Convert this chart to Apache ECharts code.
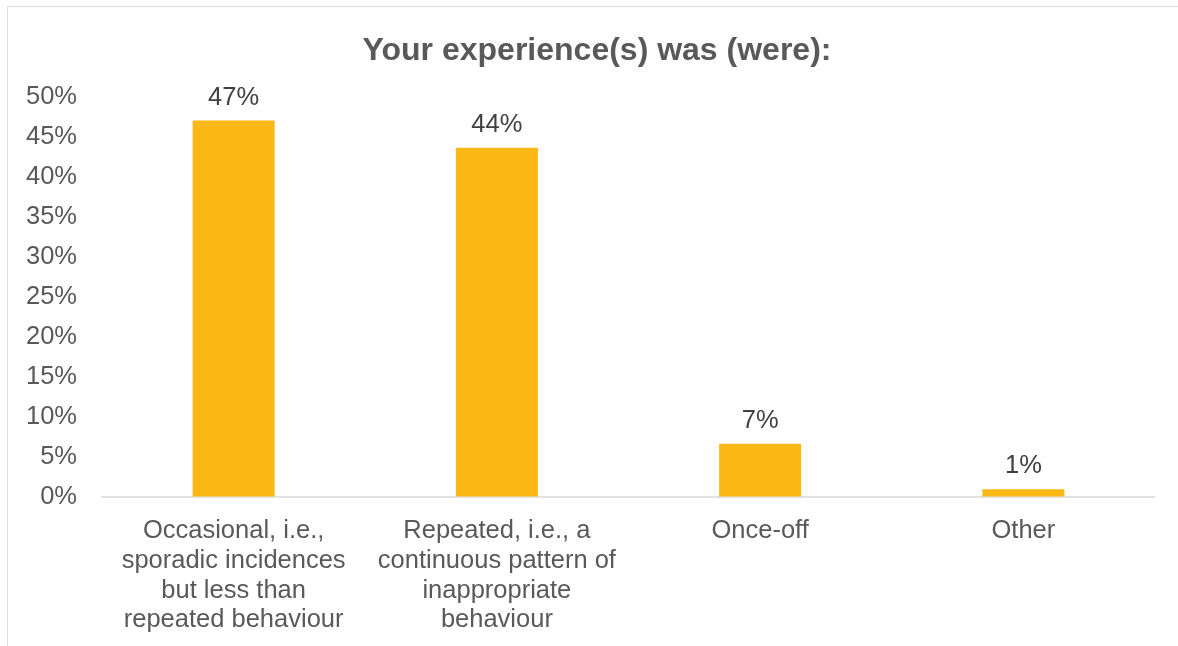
<!DOCTYPE html>
<html>
<head>
<meta charset="utf-8">
<title>Your experience(s) was (were):</title>
<script src="https://cdn.jsdelivr.net/npm/echarts@6/dist/echarts.min.js"></script>
<style>
  html, body { margin: 0; padding: 0; background: #ffffff; }
  #chart { width: 1178px; height: 646px; }
</style>
</head>
<body>
<div id="chart"></div>
<script>
// Survey responses: share of respondents per type of experience
const categories = [
  'Occasional, i.e.,\nsporadic incidences\nbut less than\nrepeated behaviour',
  'Repeated, i.e., a\ncontinuous pattern of\ninappropriate\nbehaviour',
  'Once-off',
  'Other'
];
const shares = [47, 43.6, 6.6, 0.9];   // percent
const yTicks = { min: 0, max: 50, interval: 5 };

const FONT = '"Liberation Sans", Arial, sans-serif';
const GREY = '#595959';

const chart = echarts.init(document.getElementById('chart'), null, { renderer: 'canvas' });

chart.setOption({
  animation: false,
  backgroundColor: '#ffffff',
  title: {
    text: 'Your experience(s) was (were):',
    left: 597,
    textAlign: 'center',
    top: 35,
    padding: 0,
    textStyle: { fontFamily: FONT, fontSize: 32, fontWeight: 'bold', color: GREY }
  },
  // chart frame
  graphic: [{
    type: 'rect',
    shape: { x: 7.5, y: 6.5, width: 1300, height: 800 },
    style: { fill: null, stroke: '#dcdcdc', lineWidth: 1 },
    silent: true
  }],
  grid: { left: 102, right: 23, top: 96.5, bottom: 149.5, containLabel: false },
  xAxis: {
    type: 'category',
    data: categories,
    axisLine: { show: true, lineStyle: { color: '#d9d9d9', width: 1.5 } },
    axisTick: { show: false },
    axisLabel: {
      interval: 0,
      margin: 20,
      fontFamily: FONT,
      fontSize: 25.5,
      lineHeight: 29.7,
      color: GREY,
      align: 'center'
    },
    splitLine: { show: false }
  },
  yAxis: {
    type: 'value',
    min: yTicks.min,
    max: yTicks.max,
    interval: yTicks.interval,
    axisLine: { show: false },
    axisTick: { show: false },
    splitLine: { show: false },
    axisLabel: {
      margin: 25,
      fontFamily: FONT,
      fontSize: 25.5,
      color: GREY,
      formatter: v => v + '%'
    }
  },
  series: [{
    type: 'bar',
    data: shares,
    barWidth: 82,
    itemStyle: { color: '#fbb715' },
    label: {
      show: true,
      position: 'top',
      distance: 10,
      fontFamily: FONT,
      fontSize: 25.5,
      color: '#404040',
      formatter: p => Math.round(p.value) + '%'
    }
  }]
});
</script>
</body>
</html>
